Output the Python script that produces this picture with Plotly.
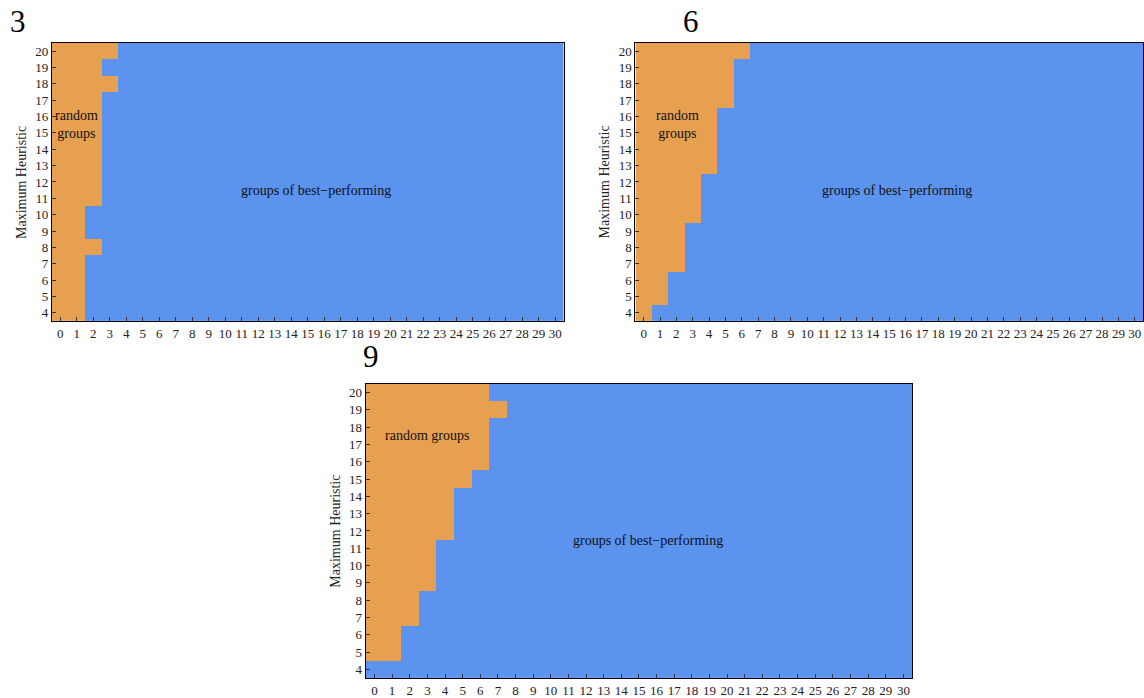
import plotly.graph_objects as go

x_vals = list(range(0, 31))
y_vals = list(range(4, 21))
# last x index (inclusive) that is "random groups" for each y = 4..20
cut_3 = [1, 1, 1, 1, 2, 1, 1, 2, 2, 2, 2, 2, 2, 2, 3, 2, 3]
cut_6 = [0, 1, 1, 2, 2, 2, 3, 3, 3, 4, 4, 4, 4, 5, 5, 5, 6]
cut_9 = [-1, 1, 1, 2, 2, 3, 3, 3, 4, 4, 4, 5, 6, 6, 6, 7, 6]
panel_titles = ["3", "6", "9"]

ORANGE = "#E6A050"
BLUE = "#5B93EF"
W, H = 1144, 698
# pixel boxes: left, right, top, bottom
boxes = [(52, 564, 43, 322), (636, 1144, 43, 322), (366, 913, 385, 680)]
title_pos = [(18, 22), (692, 22), (371, 358)]
rg_text = ["random<br>groups", "random<br>groups", "random groups"]
rg_pos = [(1.0, 15.5), (2.05, 15.5), (3.0, 17.5)]
cuts = [cut_3, cut_6, cut_9]
FONT = "Liberation Serif"

fig = go.Figure()
annotations = []
for i, (cut, box) in enumerate(zip(cuts, boxes)):
    z = [[1 if x <= c else 0 for x in x_vals] for c in cut]
    xa = "x" if i == 0 else f"x{i+1}"
    ya = "y" if i == 0 else f"y{i+1}"
    fig.add_trace(go.Heatmap(x=x_vals, y=y_vals, z=z, zmin=0, zmax=1,
                             colorscale=[[0, BLUE], [1, ORANGE]], showscale=False,
                             xaxis=xa, yaxis=ya, hoverinfo="skip"))
    l, r, t, b = box
    axkw = dict(showgrid=False, zeroline=False, showline=True, linecolor="black",
                linewidth=1, mirror=True, ticks="inside", ticklen=4, tickcolor="#333",
                tickfont=dict(family=FONT, size=13, color="#222"))
    fig.layout[f"xaxis{'' if i == 0 else i+1}"] = dict(
        domain=[l / W, r / W], anchor=ya, range=[-0.5, 30.5], tickmode="array",
        tickvals=x_vals, **axkw)
    fig.layout[f"yaxis{'' if i == 0 else i+1}"] = dict(
        domain=[1 - b / H, 1 - t / H], anchor=xa, range=[3.5, 20.5], tickmode="array",
        tickvals=y_vals, **axkw)
    annotations.append(dict(text="Maximum Heuristic", xref="paper", yref="paper",
                            x=(l - 30) / W, y=1 - (t + b) / 2 / H, textangle=-90,
                            showarrow=False, font=dict(family=FONT, size=14, color="#222"),
                            xanchor="center", yanchor="middle"))
    annotations.append(dict(text="groups of best\u2212performing", xref=xa, yref=ya,
                            x=15.5, y=11.45, showarrow=False,
                            font=dict(family=FONT, size=14, color="#111")))
    annotations.append(dict(text=rg_text[i], xref=xa, yref=ya, x=rg_pos[i][0], y=rg_pos[i][1],
                            showarrow=False, font=dict(family=FONT, size=14, color="#111")))
    tx, ty = title_pos[i]
    annotations.append(dict(text=panel_titles[i], xref="paper", yref="paper", x=tx / W,
                            y=1 - ty / H, showarrow=False,
                            font=dict(family=FONT, size=31, color="black"),
                            xanchor="center", yanchor="middle"))

fig.update_layout(width=W, height=H, margin=dict(l=0, r=0, t=0, b=0),
                  paper_bgcolor="white", plot_bgcolor="white",
                  annotations=annotations, showlegend=False)
fig.write_html("out.html", config={"displayModeBar": False},
               post_script="document.body.style.margin='0';document.body.style.overflow='hidden';")
